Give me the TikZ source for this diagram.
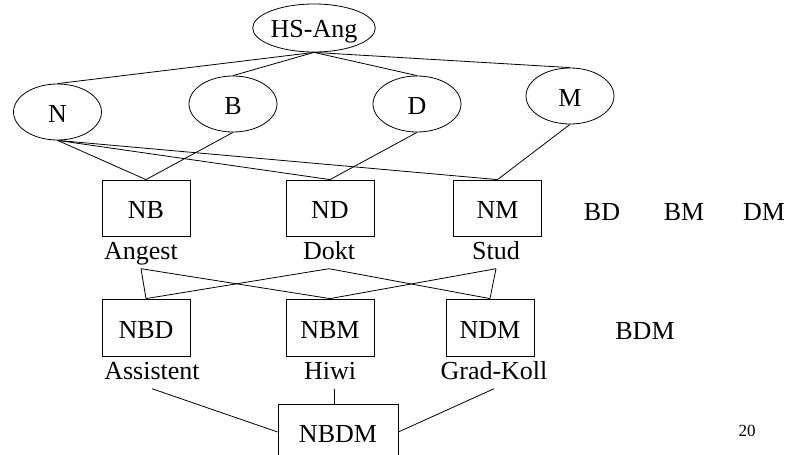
\documentclass[tikz,border=0pt]{standalone}
\usepackage{fontspec}
\setmainfont{Liberation Serif}
\usetikzlibrary{shapes.geometric}
\tikzset{
  big/.style={font=\fontsize{26}{30}\selectfont},
  oval/.style={big, ellipse, draw, line width=0.8pt, inner sep=0pt,
    minimum width=88pt, minimum height=56pt, text height=21pt, text depth=0pt},
  cell/.style={big, rectangle, draw, line width=0.8pt, inner sep=0pt,
    minimum width=88pt, minimum height=56pt, text height=21pt, text depth=0pt},
  tag/.style={big, inner sep=3.5pt, text depth=6pt, anchor=base},
  plain/.style={big, inner sep=0pt, anchor=base},
  link/.style={line width=0.8pt}
}
\begin{document}
\begin{tikzpicture}[x=1pt,y=-1pt]
\useasboundingbox (0,0) rectangle (790,455);
\clip (0,0) rectangle (790,455);

% root and the four base attributes
\node[oval, minimum width=121pt, minimum height=48pt, text height=18pt] (hs) at (314,28) {HS-Ang};
\node[oval] (n) at (57.5,112) {N};
\node[oval] (b) at (233,104) {B};
\node[oval] (d) at (417,104) {D};
\node[oval] (m) at (570,96) {M};

% pairs
\node[cell] (nb) at (146,208) {NB};
\node[cell] (nd) at (330,208) {ND};
\node[cell] (nm) at (497.5,208) {NM};
\node[tag] (angest) at (141,259) {Angest};
\node[tag] (dokt) at (329,259) {Dokt};
\node[tag] (stud) at (496,259) {Stud};
\node[plain] (bd) at (602,220) {BD};
\node[plain] (bm) at (684,220) {BM};
\node[plain] (dm) at (764,220) {DM};

% triples
\node[cell, minimum height=57pt] (nbd) at (146,327.5) {NBD};
\node[cell, minimum height=57pt] (nbm) at (330,327.5) {NBM};
\node[cell, minimum height=57pt] (ndm) at (490,327.5) {NDM};
\node[tag] (assist) at (152,379) {Assistent};
\node[tag] (hiwi) at (330,379) {Hiwi};
\node[tag] (grad) at (494,379) {Grad-Koll};
\node[plain] (bdm) at (645,339) {BDM};

% all four
\node[cell, minimum width=120pt] (nbdm) at (338,432) {NBDM};

% page number
\node[plain, font=\fontsize{17}{20}\selectfont] (pg) at (747,436) {20};

% connectors
\draw[link] (hs.south) -- (n.north);
\draw[link] (hs.south) -- (b.north);
\draw[link] (hs.south) -- (d.north);
\draw[link] (hs.south) -- (m.north);

\draw[link] (n.south) -- (nb.north);
\draw[link] (n.south) -- (nd.north);
\draw[link] (n.south) -- (nm.north);
\draw[link] (b.south) -- (nb.north);
\draw[link] (d.south) -- (nd.north);
\draw[link] (m.south) -- (nm.north);

\draw[link] (angest.south) -- (nbd.north);
\draw[link] (angest.south) -- (nbm.north);
\draw[link] (dokt.south) -- (nbd.north);
\draw[link] (dokt.south) -- (ndm.north);
\draw[link] (stud.south) -- (nbm.north);
\draw[link] (stud.south) -- (ndm.north);

\draw[link] (assist.south) -- (nbdm.west);
\draw[link] ([xshift=4pt]hiwi.south) -- ([xshift=4pt]hiwi.south |- nbdm.north);
\draw[link] (grad.south) -- (nbdm.east);
\end{tikzpicture}
\end{document}
